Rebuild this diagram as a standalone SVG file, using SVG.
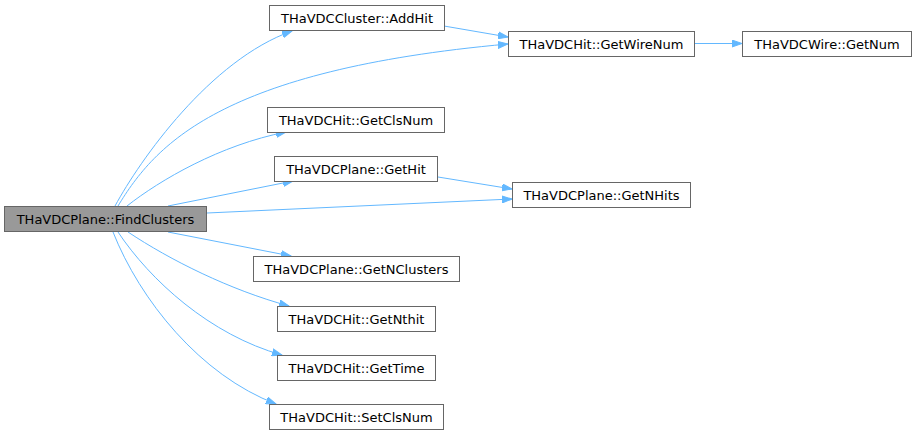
<svg xmlns="http://www.w3.org/2000/svg" width="916" height="436" viewBox="0 0 916 436">
<style>
.n rect{fill:#ffffff;stroke:#666666;stroke-width:1}
.n.root rect{fill:#999999}
.n text{font-family:"DejaVu Sans",sans-serif;font-size:13px;fill:#000000;text-anchor:middle}
.e path{fill:none;stroke:#63b8ff;stroke-width:1}
</style>
<defs>
<marker id="ah" markerUnits="userSpaceOnUse" markerWidth="11" markerHeight="8" refX="10" refY="4" orient="auto">
<path d="M0,0.5 L10,4 L0,7.5 z" fill="#63b8ff" stroke="#63b8ff" stroke-width="1"/>
</marker>
</defs>
<rect width="916" height="436" fill="#ffffff"/>
<g id="connectors" class="e">
<path d="M115,206 C140,160 210,60 292,31" marker-end="url(#ah)"/>
<path d="M118,206 C155,145 220,70 508,44" marker-end="url(#ah)"/>
<path d="M127,206 C160,180 220,145 286,132" marker-end="url(#ah)"/>
<path d="M168,206 L293,181" marker-end="url(#ah)"/>
<path d="M207,213 L512,199" marker-end="url(#ah)"/>
<path d="M168,232 L291,256" marker-end="url(#ah)"/>
<path d="M128,232 C170,260 230,290 289,306" marker-end="url(#ah)"/>
<path d="M118,232 C150,280 210,335 282,355" marker-end="url(#ah)"/>
<path d="M113,232 C140,300 200,375 276,404" marker-end="url(#ah)"/>
<path d="M444,26 L508,37" marker-end="url(#ah)"/>
<path d="M438,177 L512,189" marker-end="url(#ah)"/>
<path d="M695,43.5 L742,43.5" marker-end="url(#ah)"/>
</g>
<g id="node-findclusters" class="n root"><rect x="4.5" y="206.5" width="202" height="25"/><text x="105.5" y="223.5">THaVDCPlane::FindClusters</text></g>
<g id="node-addhit" class="n"><rect x="269.5" y="5.5" width="175" height="25"/><text x="357" y="22.5">THaVDCCluster::AddHit</text></g>
<g id="node-getwirenum" class="n"><rect x="508.5" y="31.5" width="186" height="25"/><text x="601.5" y="48.5">THaVDCHit::GetWireNum</text></g>
<g id="node-getnum" class="n"><rect x="742.5" y="31.5" width="169" height="25"/><text x="827" y="48.5">THaVDCWire::GetNum</text></g>
<g id="node-getclsnum" class="n"><rect x="267.5" y="107.5" width="177" height="25"/><text x="356" y="124.5">THaVDCHit::GetClsNum</text></g>
<g id="node-gethit" class="n"><rect x="274.5" y="156.5" width="163" height="25"/><text x="356" y="173.5">THaVDCPlane::GetHit</text></g>
<g id="node-getnhits" class="n"><rect x="512.5" y="182.5" width="178" height="25"/><text x="601.5" y="199.5">THaVDCPlane::GetNHits</text></g>
<g id="node-getnclusters" class="n"><rect x="253.5" y="256.5" width="206" height="25"/><text x="356.5" y="273.5">THaVDCPlane::GetNClusters</text></g>
<g id="node-getnthit" class="n"><rect x="277.5" y="306.5" width="158" height="25"/><text x="356.5" y="323.5">THaVDCHit::GetNthit</text></g>
<g id="node-gettime" class="n"><rect x="277.5" y="355.5" width="158" height="25"/><text x="356.5" y="372.5">THaVDCHit::GetTime</text></g>
<g id="node-setclsnum" class="n"><rect x="269.5" y="404.5" width="174" height="25"/><text x="356.5" y="421.5">THaVDCHit::SetClsNum</text></g>
</svg>
